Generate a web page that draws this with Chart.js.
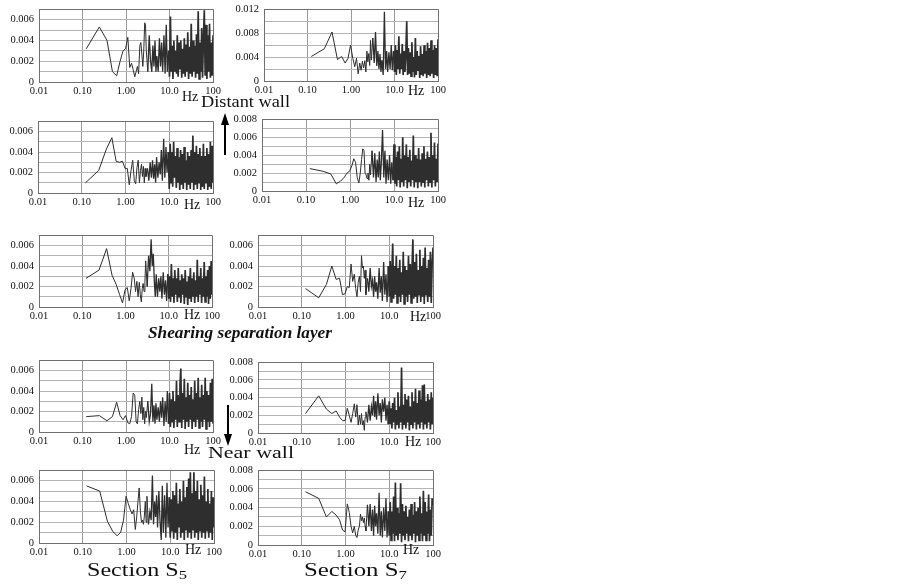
<!DOCTYPE html>
<html>
<head>
<meta charset="utf-8">
<script src="https://cdn.jsdelivr.net/npm/chart.js@4.4.1/dist/chart.umd.min.js"></script>
<style>
html,body{margin:0;padding:0;background:#fff;}
#wrap{position:relative;width:903px;height:584px;overflow:hidden;background:#fff;}
#ov{position:absolute;left:0;top:0;pointer-events:none;}
</style>
</head>
<body>
<div id="wrap">
<svg id="ov" width="903" height="584" xmlns="http://www.w3.org/2000/svg">
  <g font-family="Liberation Serif, 'Times New Roman', serif" fill="#111">
    <text x="201" y="107" font-size="16" textLength="89" lengthAdjust="spacingAndGlyphs">Distant wall</text>
    <text x="148" y="338" font-size="16.5" font-weight="bold" font-style="italic" textLength="184" lengthAdjust="spacingAndGlyphs">Shearing separation layer</text>
    <text x="208" y="458" font-size="16.5" textLength="86" lengthAdjust="spacingAndGlyphs">Near wall</text>
    <text x="87" y="576" font-size="19" textLength="100" lengthAdjust="spacingAndGlyphs">Section S<tspan font-size="13" dy="3">5</tspan></text>
    <text x="304" y="576" font-size="19" textLength="103" lengthAdjust="spacingAndGlyphs">Section S<tspan font-size="13" dy="3">7</tspan></text>
    <g font-size="14">
      <text x="182" y="101">Hz</text>
      <text x="408" y="95">Hz</text>
      <text x="184" y="209">Hz</text>
      <text x="408" y="207">Hz</text>
      <text x="184" y="319">Hz</text>
      <text x="410" y="321">Hz</text>
      <text x="184" y="454">Hz</text>
      <text x="405" y="446">Hz</text>
      <text x="185" y="554">Hz</text>
      <text x="403" y="554">Hz</text>
    </g>
  </g>
  <line x1="225" y1="155" x2="225" y2="122" stroke="#000" stroke-width="2"/>
  <polygon points="225,113 221,125 229,125" fill="#000"/>
  <line x1="228" y1="405" x2="228" y2="436" stroke="#000" stroke-width="2"/>
  <polygon points="228,446 224,434 232,434" fill="#000"/>
</svg>
</div>
<script>
// Frequencies (Hz), shared by all panels
const freqHz = [
  0.122,0.244,0.366,0.488,0.610,0.732,0.854,0.977,1.10,1.22,1.34,1.46,1.59,1.71,1.83,1.95,2.08,2.20,2.32,2.44,2.56,2.69,2.81,2.93,
  3.17,3.42,3.66,3.91,4.15,4.39,4.64,4.88,5.13,5.49,5.86,6.22,6.59,6.96,7.45,7.93,8.42,8.91,9.52,
  10.0,10.5,11.0,11.5,12.0, 12.6,13.2,13.8,14.5,15.1, 15.8,16.6,17.4,18.2,19.1, 20.0,20.9,21.9,22.9,24.0,
  25.1,26.3,27.5,28.8,30.2, 31.6,33.1,34.7,36.3,38.0, 39.8,41.7,43.7,45.7,47.9, 50.1,52.5,55.0,57.5,60.3,
  63.1,66.1,69.2,72.4,75.9, 79.4,83.2,87.1,91.2,95.5, 100
];

// Spectral amplitudes, in units of 0.001
const s5DistantWall = [
  3.2,5.3,4.0,1.0,0.6, 2.0,3.0,3.2,4.3,1.4, 1.8,1.2,0.5,1.0,1.5, 0.8,3.5,3.8,2.6,1.5, 3.0,5.7,5.5,3.0,
  1.0,4.5,2.0,1.0,3.5, 1.5,4.0,1.0,2.5,1.0, 4.2,1.5,3.8,1.0,4.5, 0.8,5.5,1.0,3.0,
  0.5,6.3,1.0,3.5,0.3, 4.0,1.0,3.0,0.8,4.5, 0.5,3.8,1.2,4.0,0.4, 3.2,0.8,4.2,0.5,3.6,
  1.0,4.8,0.3,3.4,0.8, 5.6,0.5,4.0,1.0,3.5, 0.4,4.6,0.8,6.8,0.3, 3.8,1.0,5.2,0.4,4.2,
  6.9,0.6,5.5,0.3,4.5, 1.0,5.6,0.4,3.8,0.6, 4.5
];
const s7DistantWall = [
  4.1,5.4,8.2,3.6,4.1, 3.0,3.8,6.0,3.8,2.4, 3.8,1.2,3.0,1.8,3.3, 2.2,3.4,1.5,5.0,3.2, 4.6,2.6,6.8,3.5,
  7.2,3.0,8.2,2.5,5.0, 2.0,4.5,1.5,3.5,1.0, 11.6,2.0,5.0,1.5,4.8, 2.0,6.0,1.8,5.0,
  1.5,6.0,1.0,5.2,2.0, 7.5,1.2,4.6,2.0,6.2, 1.0,5.0,1.5,4.5,10.0, 1.0,5.5,1.2,4.8,0.8,
  6.5,1.5,4.0,0.6,7.2, 1.0,5.0,1.8,4.2,0.5, 5.8,1.0,4.5,0.8,6.0, 1.2,5.0,0.5,6.4,1.0,
  5.5,0.8,6.8,1.2,5.2, 0.5,6.0,1.0,5.5,0.8, 7.0
];
const s5Upper = [
  1.0,2.2,4.3,5.4,3.1, 3.0,3.1,2.4,2.4,0.8, 2.2,3.2,1.2,0.9,2.5, 3.2,1.0,2.2,2.8,1.6, 2.6,1.0,2.4,1.6,
  2.4,1.2,3.0,1.5,3.2, 1.4,2.8,1.0,3.5,1.5, 3.0,1.8,4.2,1.2,5.3, 1.5,4.5,2.0,4.0,
  0.4,4.8,1.0,4.0,0.6, 5.0,1.5,3.6,0.5,4.4, 1.0,3.5,0.3,4.2,0.8, 3.8,0.4,4.5,1.0,3.2,
  0.3,4.0,0.8,3.6,0.4, 4.2,1.0,5.6,0.3,4.0, 0.8,4.6,0.4,3.8,1.0, 4.4,0.3,3.6,0.6,4.8,
  0.4,3.6,1.0,4.4,0.3, 3.8,0.6,5.0,0.4,4.6, 1.0
];
const s7Upper = [
  2.5,2.2,1.9,0.8,1.1, 1.5,2.0,2.2,2.8,3.6, 3.2,1.5,0.9,2.0,3.5, 4.7,4.5,2.0,1.8,1.4, 2.0,1.2,3.0,1.8,
  4.5,1.5,4.2,1.0,3.5, 1.5,4.4,1.2,3.0,6.8, 1.5,4.5,0.8,3.5,1.2, 4.0,0.8,3.2,1.2,
  5.2,0.8,3.8,0.5,4.4, 1.2,5.0,0.4,3.6,1.0, 6.0,0.5,4.0,1.2,5.2, 0.3,3.8,1.0,4.6,0.5,
  3.4,1.2,6.2,0.4,4.0, 1.0,3.6,0.3,4.8,1.0, 3.5,0.5,4.2,1.0,5.0, 0.4,3.6,1.2,4.4,0.5,
  3.8,1.0,6.5,0.4,4.0, 1.2,5.4,0.5,3.6,1.0, 5.3
];
const s5Shearing = [
  2.8,3.6,5.7,3.1,2.2, 1.2,0.4,1.7,1.9,0.6, 1.8,3.4,2.8,1.5,2.5, 1.0,2.4,1.2,0.5,1.8, 2.3,1.5,2.5,4.5,
  2.0,5.0,3.5,6.6,4.0, 5.2,2.5,1.0,3.2,1.0, 2.8,1.5,3.0,0.8,3.4, 1.2,2.6,0.6,3.2,
  0.8,3.0,0.5,4.2,1.0, 2.8,0.4,3.6,1.2,2.8, 0.5,3.8,1.0,2.6,0.4, 3.2,1.2,2.8,0.3,3.6,
  1.0,2.5,0.2,3.0,0.8, 3.8,0.5,2.8,1.0,3.4, 0.4,2.6,1.0,4.6,0.5, 3.0,1.2,3.8,0.4,2.8,
  1.0,4.4,0.5,3.0,1.0, 3.6,0.3,4.0,0.8,4.5, 1.2
];
const s7Shearing = [
  1.8,0.9,2.2,4.0,2.7, 2.8,1.2,1.3,2.0,1.9, 4.2,2.5,3.2,1.8,1.0, 2.4,3.0,1.5,5.0,3.8, 4.0,2.8,3.6,1.2,
  2.8,1.5,3.8,2.0,2.6, 1.0,3.0,1.5,2.4,0.8, 3.8,1.4,3.0,0.6,4.4, 1.2,3.2,0.5,4.0,
  1.0,4.5,0.5,3.6,6.2, 0.8,4.0,1.2,5.0,0.4, 3.8,1.0,4.6,0.5,3.4, 1.2,5.4,0.3,4.0,1.0,
  3.6,0.5,5.0,1.2,4.2, 0.4,3.8,6.6,0.8,4.4, 1.0,5.2,0.4,3.6,1.2, 5.6,0.5,4.0,1.0,4.8,
  0.3,5.8,1.2,3.8,0.5, 4.6,1.0,5.4,0.4,4.2, 5.8
];
const s5Lower = [
  1.5,1.6,1.1,1.5,2.9, 1.6,1.2,1.6,0.9,0.8, 1.5,3.8,3.6,1.0,0.8, 2.2,3.0,1.8,3.4,1.2, 2.4,0.8,2.0,1.4,
  3.0,1.0,1.8,4.7,1.0, 2.6,0.8,2.8,1.2,2.4, 1.0,3.0,1.4,3.4,0.6, 3.0,1.0,4.0,0.8,
  3.8,0.5,3.2,1.0,4.0, 0.4,3.0,1.2,5.0,0.5, 3.6,1.0,4.6,6.2,0.4, 3.8,1.2,5.2,0.3,3.4,
  1.0,4.8,0.5,3.6,1.2, 4.4,0.3,3.2,1.0,5.0, 0.5,3.8,1.2,5.3,0.4, 3.4,1.0,4.6,0.5,3.6,
  1.2,5.3,0.3,4.0,1.0, 3.6,0.5,4.8,1.0,5.2, 0.8
];
const s7Lower = [
  2.2,4.2,2.7,2.2,2.5, 1.8,1.4,1.4,2.8,2.0, 1.2,2.2,3.3,1.8,3.2, 0.9,2.0,1.0,2.2,0.9, 1.4,0.3,1.8,2.4,
  1.2,3.2,1.4,3.0,2.0, 4.2,1.8,3.6,1.5,4.5, 2.0,3.4,1.2,3.8,2.4, 4.0,1.4,3.2,1.0,
  3.6,1.0,2.8,0.5,3.4, 1.2,4.0,0.4,2.6,1.0, 4.6,0.5,3.0,1.2,7.4, 0.4,3.2,1.0,4.4,0.5,
  3.8,1.2,4.2,0.3,3.0, 1.0,4.6,0.5,3.6,1.2, 5.0,0.4,3.4,1.0,4.8, 0.5,3.8,1.2,5.4,0.4,
  5.5,1.0,3.6,0.5,4.4, 1.2,3.8,0.4,4.6,1.0, 4.0
];
const s5NearWall = [
  5.5,5.0,2.1,1.1,0.7, 1.0,2.2,4.5,3.8,3.2, 2.8,3.2,1.3,2.5,4.0, 5.3,3.0,2.0,2.2,1.8, 2.6,4.0,2.0,4.5,
  1.8,3.0,2.2,6.5,1.8, 4.0,2.5,4.6,1.5,5.0, 2.0,0.3,5.5,1.0,4.6, 0.5,5.8,1.5,4.4,
  0.5,4.2,1.2,5.0,0.4, 4.6,1.0,5.8,0.3,3.8, 1.5,5.2,0.5,4.0,1.0, 6.0,0.3,4.4,1.2,5.4,
  0.5,6.2,1.0,6.8,0.4, 4.8,1.2,6.8,0.5,5.0, 1.0,6.0,0.3,4.2,1.2, 5.6,0.5,4.6,1.0,6.4,
  0.4,4.0,1.2,5.2,0.5, 3.8,1.0,5.0,0.3,4.4, 1.5
];
const s7NearWall = [
  5.7,5.0,3.0,3.6,3.2, 2.7,1.6,1.4,4.4,3.5, 2.0,1.3,2.0,1.0,0.8, 1.6,2.0,3.3,2.6,3.0, 2.4,2.9,2.0,1.5,
  4.3,2.0,4.4,1.5,3.8, 1.0,4.2,2.0,3.4,1.2, 5.6,1.0,3.6,0.8,4.0, 1.5,5.0,0.8,3.6,
  1.0,4.6,0.5,3.6,1.2, 5.2,0.4,6.7,1.0,4.0, 0.5,3.4,1.2,6.6,0.3, 4.4,1.0,3.6,0.5,4.2,
  1.2,3.0,0.4,3.8,1.0, 4.4,0.5,3.2,1.2,4.6, 0.3,3.6,1.0,4.0,0.5, 5.2,1.2,3.4,0.4,5.8,
  1.0,4.6,0.5,3.6,1.2, 5.4,0.4,3.8,1.0,5.0, 4.2
];

// Tick labels
const xTickValues = [0.01, 0.1, 1, 10, 100];
const xTickLabels = ['0.01', '0.10', '1.00', '10.0', '100'];
const yTicks7 = ['0', '0.002', '0.004', '0.006'];
const yTicks8 = ['0', '0.002', '0.004', '0.006', '0.008'];
const yTicks12 = ['0', '0.004', '0.008', '0.012'];

// Panel layout: plot box [left, top, right, bottom] in page pixels
const panels = [
  {vals: s5DistantWall, box: [39, 6, 213, 82],    ymax: 7,  step: 1, lab: 2, yl: yTicks7},
  {vals: s7DistantWall, box: [264, 6, 438, 81],   ymax: 12, step: 2, lab: 4, yl: yTicks12},
  {vals: s5Upper,       box: [38, 118, 213, 193], ymax: 7,  step: 1, lab: 2, yl: yTicks7},
  {vals: s7Upper,       box: [262, 116, 438, 191],ymax: 8,  step: 1, lab: 2, yl: yTicks8},
  {vals: s5Shearing,    box: [39, 232, 212, 307], ymax: 7,  step: 1, lab: 2, yl: yTicks7},
  {vals: s7Shearing,    box: [258, 232, 433, 307],ymax: 7,  step: 1, lab: 2, yl: yTicks7},
  {vals: s5Lower,       box: [39, 357, 213, 432], ymax: 7,  step: 1, lab: 2, yl: yTicks7},
  {vals: s7Lower,       box: [258, 359, 433, 433],ymax: 8,  step: 1, lab: 2, yl: yTicks8},
  {vals: s5NearWall,    box: [39, 467, 214, 543], ymax: 7,  step: 1, lab: 2, yl: yTicks7},
  {vals: s7NearWall,    box: [258, 467, 433, 545],ymax: 8,  step: 1, lab: 2, yl: yTicks8}
];

const FONT = {family: "'Liberation Serif', 'Times New Roman', serif", size: 10.5};
const YW = 40, XH = 18, PT = 8, PR = 12;

function segWidth(ctx) {
  const x = ctx.p0.parsed.x;
  if (x >= 9) return 1.7;
  if (x >= 3) return 1.3;
  return 1;
}

function makePanel(p) {
  const [l, t, r, b] = p.box;
  const c = document.createElement('canvas');
  c.width = (r - l) + YW + PR;
  c.height = (b - t) + PT + XH;
  c.style.cssText = `position:absolute;left:${l - YW}px;top:${t - PT}px;width:${c.width}px;height:${c.height}px;`;
  const wrap = document.getElementById('wrap');
  wrap.insertBefore(c, document.getElementById('ov'));
  const pts = [];
  for (let i = 0; i < freqHz.length && i < p.vals.length; i++) pts.push({x: freqHz[i], y: p.vals[i]});
  new Chart(c, {
    type: 'line',
    data: {datasets: [{data: pts, borderColor: '#2e2e2e', borderWidth: 1, pointRadius: 0, tension: 0, fill: false,
      segment: {borderWidth: segWidth}}]},
    options: {
      responsive: false, animation: false, devicePixelRatio: 1,
      layout: {padding: {top: PT, right: PR, left: 0, bottom: 0}},
      plugins: {legend: {display: false}, tooltip: {enabled: false}},
      scales: {
        x: {
          type: 'logarithmic', min: 0.01, max: 100,
          afterBuildTicks: s => { s.ticks = xTickValues.map(v => ({value: v})); },
          afterFit: s => { s.height = XH; },
          ticks: {callback: (v, i) => xTickLabels[i], padding: 3, maxRotation: 0, minRotation: 0, autoSkip: false, font: FONT, color: '#111'},
          grid: {color: ctx => (ctx.tick && ctx.tick.value === 100) ? '#707070' : '#9a9a9a', lineWidth: 1, drawTicks: false},
          border: {color: '#707070', width: 1}
        },
        y: {
          min: 0, max: p.ymax,
          afterBuildTicks: s => { const a = []; for (let v = 0; v <= p.ymax + 1e-9; v += p.step) a.push({value: v}); s.ticks = a; },
          afterFit: s => { s.width = YW; },
          ticks: {
            callback: v => { const k = v / p.lab; return Math.abs(k - Math.round(k)) < 1e-6 ? p.yl[Math.round(k)] : ''; },
            padding: 5, autoSkip: false, font: FONT, color: '#111'
          },
          grid: {color: ctx => (ctx.tick && ctx.tick.value === p.ymax) ? '#707070' : '#b4b4b4', lineWidth: 1, drawTicks: false},
          border: {color: '#707070', width: 1}
        }
      }
    }
  });
}
panels.forEach(makePanel);
</script>
</body>
</html>
